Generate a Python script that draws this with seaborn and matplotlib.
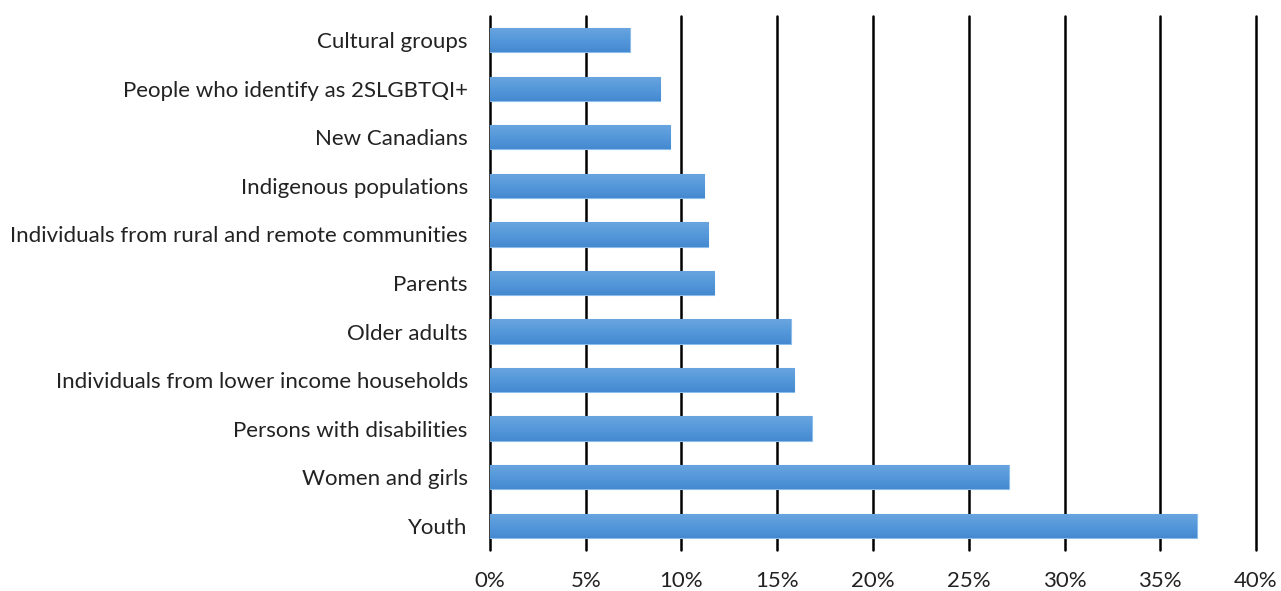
import numpy as np
import pandas as pd
import seaborn as sns
import matplotlib
matplotlib.use("Agg")
import matplotlib.pyplot as plt
from matplotlib.colors import LinearSegmentedColormap
from matplotlib.ticker import FuncFormatter, MultipleLocator

groups = [
    "Cultural groups",
    "People who identify as 2SLGBTQI+",
    "New Canadians",
    "Indigenous populations",
    "Individuals from rural and remote communities",
    "Parents",
    "Older adults",
    "Individuals from lower income households",
    "Persons with disabilities",
    "Women and girls",
    "Youth",
]
shares = [7.3, 8.9, 9.4, 11.2, 11.4, 11.7, 15.7, 15.9, 16.8, 27.1, 36.9]

df = pd.DataFrame({"group": groups, "share": shares})

sns.set_theme(style="white")
plt.rcParams["font.family"] = ["Lato", "DejaVu Sans"]

fig = plt.figure(figsize=(12.81, 5.91), dpi=100)
ax = fig.add_axes([0.3825, 0.0694, 0.598, 0.9036])

sns.barplot(data=df, x="share", y="group", orient="h", width=0.5,
            color="#5B9BD5", edgecolor="#8DBDEB", linewidth=0.8, ax=ax,
            zorder=3)

# vertical gradient fill inside each bar
cmap = LinearSegmentedColormap.from_list("bar", ["#6AA5E0", "#5598DA", "#4589D0"])
grad = np.linspace(0, 1, 64).reshape(-1, 1)
for patch in ax.patches:
    x0, y0 = patch.get_x(), patch.get_y()
    w, h = patch.get_width(), patch.get_height()
    im = ax.imshow(grad, cmap=cmap, aspect="auto", origin="upper",
                   extent=[x0, x0 + w, y0 + h, y0], zorder=3.5,
                   interpolation="bilinear")
    im.set_clip_path(patch)

ax.set_xlim(0, 40)
ax.set_ylim(10.5, -0.5)
ax.xaxis.set_major_locator(MultipleLocator(5))
ax.xaxis.set_major_formatter(FuncFormatter(lambda v, _: f"{v:.0f}%"))
ax.grid(axis="x", color="black", linewidth=1.8, zorder=1)
ax.grid(axis="y", visible=False)
for gl in ax.get_xgridlines():
    gl.set_clip_on(False)
for s in ax.spines.values():
    s.set_visible(False)
ax.tick_params(axis="both", length=0, labelsize=16, colors="#222222")
ax.tick_params(axis="x", pad=15)
ax.tick_params(axis="y", pad=16)
ax.set_xlabel("")
ax.set_ylabel("")

fig.savefig("out.png", dpi=100)
